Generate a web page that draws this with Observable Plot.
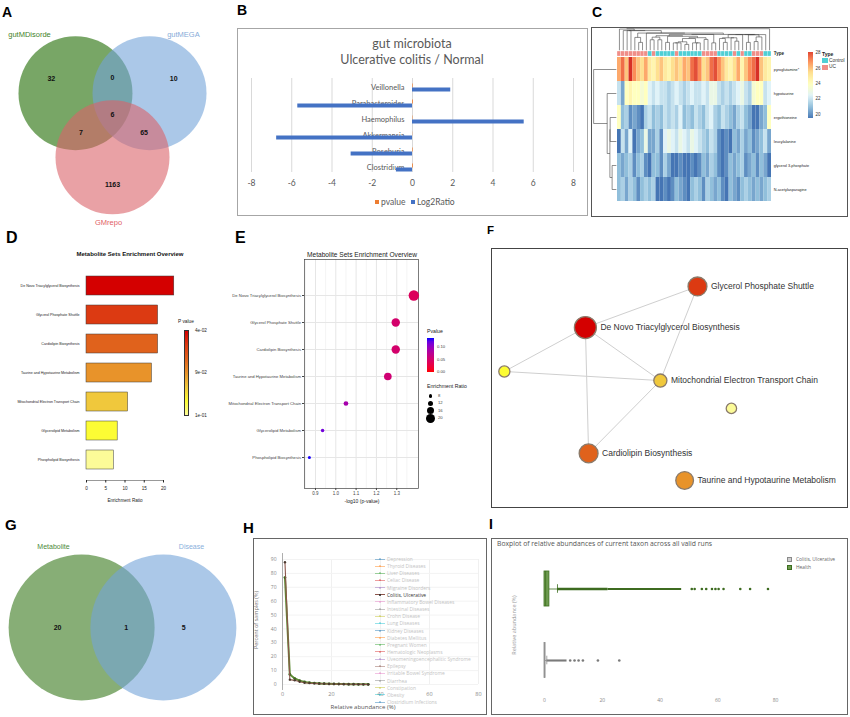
<!DOCTYPE html>
<html><head><meta charset="utf-8">
<script src="https://cdn.jsdelivr.net/npm/d3@7"></script>
<script src="https://cdn.jsdelivr.net/npm/@observablehq/plot@0.6"></script>
<style>
body{margin:0;background:#fff;}
#fig{position:relative;width:850px;height:717px;overflow:hidden;background:#fff;}
#fig svg{position:absolute;overflow:visible;}
</style></head><body><div id="fig"></div>
<script>
// ================= DATA =================
// A: three-set Venn
const vennA_sets = ["gutMDisorde", "gutMEGA", "GMrepo"];
const vennA_regions = ["100", "010", "001", "110", "101", "011", "111"];
const vennA_counts = [32, 10, 1163, 0, 7, 65, 6];
// B: log2 ratio bars
const microbes = ["Veillonella", "Parabacteroides", "Haemophilus", "Akkermansia", "Roseburia", "Clostridium"];
const log2Ratio = [1.9, -5.7, 5.55, -6.75, -3.05, -0.8];
const pvalues = [0.03, 0.04, 0.02, 0.01, 0.03, 0.04];
const bTicks = [-8, -6, -4, -2, 0, 2, 4, 6, 8];
// C: heatmap
const metabolites = ["pyroglutamine*", "hypotaurine", "ergothioneine", "leucylalanine", "glycerol 3-phosphate", "N-acetylasparagine"];
const sampleType = ["UC","UC","UC","UC","UC","UC","UC","UC","Control","UC","Control","Control","Control","Control","Control","UC","Control","Control","Control","Control","Control","Control","UC","UC","UC","UC","Control","Control","Control","Control","UC","Control","UC","Control","Control","UC","UC","UC","Control","Control"];
const heatPyroglutamine = [26.5,27.5,26,28.5,27,26,25.5,26.5,25,24.5,25.5,26,25,24.5,25.5,26,25.5,26.5,26,27.5,28,27,25.5,26,27.5,28,27,26,25,24.5,25.5,26.5,24.5,26,27,27.5,28.5,26,25,24.5];
const heatHypotaurine = [22,20.5,24,24.5,24,24,23.5,24,22.5,22,22.5,22,22,21.5,22,22.5,22,21.5,22,22.5,22,22,22.5,22,23,23,22,21.5,22,21.5,22,22.5,23,22,21.5,23.5,24,24,22,22.5];
const heatErgothioneine = [24,21,21.5,20,20.5,20,19.5,21.5,22,21,21.5,21,22,21.5,22,21.5,22.5,21,21.5,21,22,21.5,21,22,22.5,21.5,21,22,21.5,21,20.5,21.5,22,21,20.5,19.5,19.5,20.5,21,24];
const heatLeucylalanine = [19.5,22,20.5,22.5,19.5,20.5,21,23,20.5,20.5,21.5,20,22.5,23,22.5,22,23,22.5,22,23,22.5,22,21.5,21,22,21.5,20,19.5,20,19.5,21,20.5,21.5,20.5,21,20,20.5,21,22,20.5];
const heatGlycerol3P = [21,20.5,21,21.5,20,21,21.5,20,19.5,21,21,20,21.5,20.5,19.5,19.5,20,19.5,19.5,20,19.5,20,21,20.5,21.5,21,20,19.5,20,21,20.5,21,21.5,20,20.5,21,20,21,20.5,19.5];
const heatAcetylasparagine = [21,21.5,20.5,21.5,21,20,21,21.5,21,21.5,19.5,19.5,20,19.5,20,21,20.5,20,19.5,21,21.5,21,20,21.5,21,20.5,21,20,19.5,21,20.5,20,21,21.5,21,20.5,21,20.5,21,21.5];
const heatLegendTicks = [20, 22, 24, 26, 28];
// D / E / F: metabolite set enrichment
const metSets = ["De Novo Triacylglycerol Biosynthesis", "Glycerol Phosphate Shuttle", "Cardiolipin Biosynthesis", "Taurine and Hypotaurine Metabolism", "Mitochondrial Electron Transport Chain", "Glycerolipid Metabolism", "Phospholipid Biosynthesis"];
const enrichRatio = [22.8, 18.6, 18.6, 17.0, 10.8, 8.1, 7.1];
const negLog10P = [1.384, 1.295, 1.295, 1.256, 1.05, 0.935, 0.87];
const dTicks = [0, 5, 10, 15, 20];
const eTicks = [0.9, 1.0, 1.1, 1.2, 1.3];
const eSizeLegend = [8, 12, 16, 20];
const netEdgesFrom = [0, 0, 0, 0, 1, 5, 4];
const netEdgesTo   = [1, 5, 4, 2, 4, 4, 2];
const netLabelled = [0, 1, 2, 3, 4];
// G: two-set Venn
const vennG_sets = ["Metabolite", "Disease"];
const vennG_regions = ["10", "11", "01"];
const vennG_counts = [20, 1, 5];
// H: percent of samples vs relative abundance
const hDiseases = ["Depression","Thyroid Diseases","Liver Diseases","Celiac Disease","Migraine Disorders","Colitis, Ulcerative","Inflammatory Bowel Diseases","Intestinal Diseases","Crohn Disease","Lung Diseases","Kidney Diseases","Diabetes Mellitus","Pregnant Women","Hematologic Neoplasms","Uveomeningoencephalitic Syndrome","Epilepsy","Irritable Bowel Syndrome","Diarrhea","Constipation","Obesity","Clostridium Infections"];
const hAbundance = [1, 3, 5, 7, 9, 11, 13, 15, 17, 19, 21, 23, 25, 27, 29, 31, 33, 35];
const hColitisPct = [88, 3.5, 3.0, 2.0, 1.3, 1.0, 0.8, 0.6, 0.5, 0.4, 0.35, 0.3, 0.25, 0.2, 0.15, 0.1, 0.1, 0.05];
const hHealthPct  = [77, 7.2, 4.3, 2.8, 1.8, 1.3, 1.0, 0.8, 0.6, 0.5, 0.4, 0.35, 0.3, 0.25, 0.2, 0.15, 0.1, 0.1];
const hXTicks = [0, 20, 40, 60, 80];
const hYTicks = [0, 10, 20, 30, 40, 50, 60, 70, 80, 90];
// I: boxplot summaries
const boxGroups = ["Health", "Colitis, Ulcerative"];
const boxQ1 = [0, 0];
const boxMedian = [0.4, 0.05];
const boxQ3 = [1.7, 0.35];
const boxWhiskerHi = [4.5, 0.8];
const denseOutlierRuns = [[4.5, 22, 0], [22, 47.5, 0], [0.8, 7.8, 1]];
const outliersHealth = [51, 52, 54.5, 56, 58, 59.2, 60.3, 62, 67.8, 71.2, 77.4];
const outliersColitis = [8.9, 10.4, 11.8, 13.3, 18.5, 25.9];
const iTicks = [0, 20, 40, 60, 80];

// ================= HELPERS =================
const ARIAL = '"Liberation Sans", Arial, sans-serif';
const LATO = 'Lato, "Noto Sans", sans-serif';
const OPEN = '"Open Sans", "Noto Sans", sans-serif';
const fig = document.getElementById("fig");
function put(el, x, y) { el.style.position = "absolute"; el.style.left = x + "px"; el.style.top = y + "px"; fig.appendChild(el); return el; }
function txt(s, x, y, o = {}) {
  const d = document.createElement("div"); d.textContent = s;
  const a = o.anchor || "start"; const tx = a === "middle" ? "-50%" : a === "end" ? "-100%" : "0";
  d.style.cssText = `position:absolute;left:${x}px;top:${y}px;white-space:nowrap;line-height:1;transform:translate(${tx},-50%)${o.rotate ? ` rotate(${o.rotate}deg)` : ""};font-family:${o.font || ARIAL};font-size:${o.size || 8}px;font-weight:${o.weight || "normal"};color:${o.color || "#000"};`;
  fig.appendChild(d); return d;
}
function rectDiv(x, y, w, h, css) { const d = document.createElement("div"); d.style.cssText = `position:absolute;left:${x}px;top:${y}px;width:${w}px;height:${h}px;box-sizing:border-box;${css}`; fig.appendChild(d); return d; }
function letter(s, x, y, size) { txt(s, x, y, {size, weight: "bold", font: ARIAL}); }

// ================= A =================
(function () {
  const W = 230, H = 225, R = 57, ox = 112, oy = 114, d = 0.75;
  const ang = [210, 330, 90].map(a => a * Math.PI / 180);
  const circ = vennA_sets.map((s, i) => ({set: s, i, x: d * Math.cos(ang[i]), y: d * Math.sin(ang[i])}));
  const regions = vennA_regions.map((code, k) => {
    const idx = [...code].map((c, i) => c === "1" ? i : -1).filter(i => i >= 0);
    if (idx.length === 3) return {x: 0, y: 0, count: vennA_counts[k]};
    const vx = d3.mean(idx, i => Math.cos(ang[i])), vy = d3.mean(idx, i => Math.sin(ang[i]));
    const n = Math.hypot(vx, vy), dist = idx.length === 1 ? 1.24 : 0.64;
    return {x: vx / n * dist, y: vy / n * dist, count: vennA_counts[k]};
  });
  const off = [[-0.806, -1.025], [0.595, -1.025], [-0.07, 1.145]];
  const labels = circ.map((c, i) => ({set: c.set, i, x: c.x + off[i][0], y: c.y + off[i][1]}));
  const fills = ["#1e6b00", "#73a3d9", "#da6269"], tcol = ["#3f7f2a", "#86abd8", "#df6066"];
  const p = Plot.plot({
    width: W, height: H, margin: 0,
    x: {domain: [-ox / R, (W - ox) / R], range: [0, W], axis: null},
    y: {domain: [-oy / R, (H - oy) / R], range: [0, H], axis: null},
    color: {type: "identity"},
    style: {background: "transparent", fontFamily: ARIAL},
    marks: [
      Plot.dot(circ, {x: "x", y: "y", r: R, fill: c => fills[c.i], fillOpacity: 0.6}),
      Plot.text(regions, {x: "x", y: "y", text: r => String(r.count), fontWeight: "bold", fontSize: 7, fill: "#111"}),
      Plot.text(labels, {x: "x", y: "y", text: "set", fontSize: 7.5, fill: l => tcol[l.i]})
    ]
  });
  put(p, 0, 0);
  letter("A", 2, 12, 14);
})();

// ================= B =================
(function () {
  rectDiv(237, 28, 351, 188, "border:1px solid #a6a6a6;");
  txt("gut microbiota", 412, 44, {anchor: "middle", size: 12.5, font: LATO, color: "#595959"});
  txt("Ulcerative colitis / Normal", 412, 60, {anchor: "middle", size: 12.5, font: LATO, color: "#595959"});
  const data = microbes.map((m, i) => ({name: m, log2: log2Ratio[i], p: pvalues[i]}));
  const p = Plot.plot({
    width: 351, height: 188, marginLeft: 14, marginRight: 15, marginTop: 50, marginBottom: 44,
    x: {domain: [-8, 8]},
    y: {domain: microbes, range: [50.5, 146.5], padding: 0, axis: null},
    style: {background: "transparent", fontFamily: LATO, color: "#595959"},
    marks: [
      Plot.gridX({ticks: bTicks, stroke: "#d9d9d9", strokeOpacity: 1}),
      Plot.axisX({ticks: bTicks, tickSize: 0, tickPadding: 7, fontSize: 8.5, label: null, tickFormat: v => String(v)}),
      Plot.text(data, {x: 0, y: "name", text: "name", textAnchor: "end", dx: -8, fontSize: 7.5, fill: "#595959"}),
      Plot.barX(data, {x: "p", y: "name", fill: "#ed7d31", insetTop: 4.5, insetBottom: 7.5}),
      Plot.barX(data, {x: "log2", y: "name", fill: "#4472c4", insetTop: 8.5, insetBottom: 3.5})
    ]
  });
  put(p, 237, 28);
  rectDiv(375, 200, 4, 4, "background:#ed7d31;");
  txt("pvalue", 381, 202, {size: 8.5, font: LATO, color: "#595959"});
  rectDiv(411, 200, 4, 4, "background:#4472c4;");
  txt("Log2Ratio", 417, 202, {size: 8.5, font: LATO, color: "#595959"});
  letter("B", 237, 10, 14);
})();

// ================= C =================
function adjCluster(vecs) {
  const dist = (a, b) => Math.sqrt(d3.sum(a, (v, k) => (v - b[k]) ** 2));
  const link = (A, B) => d3.mean(A.m.flatMap(i => B.m.map(j => dist(vecs[i], vecs[j]))));
  let cl = vecs.map((v, i) => ({m: [i], pos: i + 0.5, h: 0}));
  while (cl.length > 1) {
    let bi = 0, bd = Infinity;
    for (let k = 0; k < cl.length - 1; k++) { const dd = link(cl[k], cl[k + 1]); if (dd < bd) { bd = dd; bi = k; } }
    const A = cl[bi], B = cl[bi + 1];
    cl.splice(bi, 2, {m: A.m.concat(B.m), pos: (A.pos + B.pos) / 2, h: Math.max(bd, A.h, B.h), kids: [A, B]});
  }
  return cl[0];
}
function treeSegs(n, out = []) {
  if (!n.kids) return out;
  const [A, B] = n.kids;
  out.push({p1: A.pos, h1: A.h, p2: A.pos, h2: n.h}, {p1: B.pos, h1: B.h, p2: B.pos, h2: n.h}, {p1: A.pos, h1: n.h, p2: B.pos, h2: n.h});
  treeSegs(A, out); treeSegs(B, out); return out;
}
(function () {
  rectDiv(591, 27, 257, 190, "border:1.5px solid #555;");
  const rows = [heatPyroglutamine, heatHypotaurine, heatErgothioneine, heatLeucylalanine, heatGlycerol3P, heatAcetylasparagine];
  const nC = sampleType.length;
  const cells = rows.flatMap((r, i) => r.map((v, j) => ({row: i, col: j, v})));
  const cols = sampleType.map((t, j) => ({col: j, type: t}));
  const colTree = adjCluster(d3.range(nC).map(j => rows.map(r => r[j])));
  const rowTree = adjCluster(rows);
  const colSegs = treeSegs(colTree), rowSegs = treeSegs(rowTree);
  const cy = h => -0.3 - 0.9 * h / colTree.h;
  const rx = h => -0.3 - 5.9 * h / rowTree.h;
  const heatDomain = [19.5, 21, 22.5, 24, 25.5, 27, 28.5];
  const heatRange = ["#4575b4", "#91bfdb", "#e0f3f8", "#ffffbf", "#fee090", "#fc8d59", "#d73027"];
  const p = Plot.plot({
    width: 257, height: 190, margin: 0,
    x: {domain: [0, nC], range: [26, 180], axis: null},
    y: {domain: [0, 6], range: [30, 174], axis: null},
    color: {type: "linear", domain: heatDomain, range: heatRange},
    style: {background: "transparent", fontFamily: ARIAL},
    marks: [
      Plot.rect(cells, {x1: "col", x2: c => c.col + 1, y1: "row", y2: c => c.row + 1, fill: "v"}),
      Plot.rect(cols.filter(c => c.type === "UC"), {x1: "col", x2: c => c.col + 1, y1: -0.25, y2: -0.04, fill: "#f08e88", stroke: "#fff", strokeWidth: 0.3}),
      Plot.rect(cols.filter(c => c.type === "Control"), {x1: "col", x2: c => c.col + 1, y1: -0.25, y2: -0.04, fill: "#4fcfd5", stroke: "#fff", strokeWidth: 0.3}),
      Plot.link(colSegs, {x1: "p1", x2: "p2", y1: s => cy(s.h1), y2: s => cy(s.h2), stroke: "#444", strokeWidth: 0.6}),
      Plot.link(rowSegs, {y1: "p1", y2: "p2", x1: s => rx(s.h1), x2: s => rx(s.h2), stroke: "#444", strokeWidth: 0.6}),
      Plot.text(metabolites, {x: nC + 0.6, y: (d, i) => i + 0.5, text: d => d, textAnchor: "start", fontSize: 3.8, fill: "#222"}),
      Plot.text(["Type"], {x: nC + 0.6, y: -0.15, text: d => d, textAnchor: "start", fontSize: 4.5, fontWeight: "bold", fill: "#222"})
    ]
  });
  put(p, 591, 27);
  // colour legend
  const sc = d3.scaleLinear().domain(heatDomain).range(heatRange);
  const vTop = 28.13, vBot = 19.61;
  const stops = d3.range(0, 1.0001, 0.05).map(t => `${sc(vTop + (vBot - vTop) * t)} ${t * 100}%`).join(",");
  rectDiv(808, 52, 5, 66, `background:linear-gradient(to bottom,${stops});`);
  heatLegendTicks.forEach(v => txt(String(v), 815.5, 52 + (vTop - v) / (vTop - vBot) * 66, {size: 4.5, color: "#333"}));
  txt("Type", 822, 54, {size: 5, weight: "bold", color: "#222"});
  rectDiv(822, 58, 6, 5, "background:#4fcfd5;");
  txt("Control", 829, 60.5, {size: 4.8, color: "#333"});
  rectDiv(822, 64.5, 6, 5, "background:#f08e88;");
  txt("UC", 829, 67, {size: 4.8, color: "#333"});
  letter("C", 592, 12, 14);
})();

// ================= D =================
const setColors = ["#d40000", "#dc3a12", "#e0621c", "#e8932a", "#f0c83c", "#fcfc34", "#fcfb98"];
(function () {
  const data = metSets.map((s, i) => ({set: s, er: enrichRatio[i]}));
  const p = Plot.plot({
    width: 215, height: 280, marginLeft: 86, marginRight: 52, marginTop: 44, marginBottom: 25,
    x: {domain: [0, 20]},
    y: {domain: metSets, range: [44, 252], paddingInner: 0.33, paddingOuter: 0.17},
    color: {type: "ordinal", domain: metSets, range: setColors},
    style: {background: "transparent", fontFamily: ARIAL, color: "#222"},
    marks: [
      Plot.barX(data, {x: "er", y: "set", fill: "set", stroke: "#3a3a3a", strokeWidth: 0.5}),
      Plot.axisY({tickSize: 0, tickPadding: 7, fontSize: 3.6, label: null}),
      Plot.axisX({ticks: dTicks, tickSize: 2.5, tickPadding: 4, fontSize: 4.6, label: null}),
      Plot.frame({anchor: "bottom", stroke: "#333", strokeWidth: 0.5})
    ]
  });
  put(p, 0, 225);
  txt("Metabolite Sets Enrichment Overview", 130, 254, {anchor: "middle", size: 6, weight: "bold", color: "#111"});
  txt("Enrichment Ratio", 125, 501, {anchor: "middle", size: 4.6, color: "#222"});
  txt("P value", 178, 322, {size: 4.8, color: "#222"});
  const stops = setColors.map((c, i) => `${c} ${i / (setColors.length - 1) * 100}%`).join(",");
  rectDiv(184, 330, 5, 86, `background:linear-gradient(to bottom,${stops});border:0.5px solid #333;`);
  const pv = negLog10P.map(v => 10 ** -v);
  txt(d3.format(".0e")(pv[0]).replace("e-", "e-0"), 195, 331, {size: 4.6, color: "#222"});
  txt("9e-02", 195, 373, {size: 4.6, color: "#222"});
  txt(d3.format(".0e")(pv[pv.length - 1]).replace("e-", "e-0"), 195, 416, {size: 4.6, color: "#222"});
  letter("D", 6, 238, 16);
})();

// ================= E =================
(function () {
  const pv = negLog10P.map(v => 10 ** -v);
  const data = metSets.map((s, i) => ({set: s, x: negLog10P[i], er: enrichRatio[i], p: pv[i]}));
  const rDom = [7.1, 22.8], rRange = [1.5, 5.2];
  const p = Plot.plot({
    width: 212, height: 280, marginLeft: 94, marginRight: 4, marginTop: 34, marginBottom: 17,
    x: {domain: [0.846, 1.407]},
    y: {type: "point", domain: metSets, range: [56, 246]},
    r: {type: "linear", domain: rDom, range: rRange},
    color: {type: "linear", domain: [0, 0.136], range: ["#ff0000", "#0000ff"], interpolate: "lab"},
    style: {background: "transparent", fontFamily: ARIAL, color: "#444"},
    marks: [
      Plot.gridX({ticks: [0.85, 0.95, 1.05, 1.15, 1.25, 1.35], stroke: "#f4f4f4", strokeOpacity: 1}),
      Plot.gridX({ticks: eTicks, stroke: "#e6e6e6", strokeOpacity: 1}),
      Plot.gridY({stroke: "#e6e6e6", strokeOpacity: 1}),
      Plot.frame({stroke: "#444", strokeWidth: 0.7}),
      Plot.axisX({ticks: eTicks, tickSize: 2, tickPadding: 1.5, fontSize: 4.5, label: null, tickFormat: d3.format(".1f")}),
      Plot.axisY({tickSize: 2, tickPadding: 1.5, fontSize: 4.2, label: null}),
      Plot.dot(data, {x: "x", y: "set", r: "er", fill: "p"})
    ]
  });
  put(p, 210, 225);
  txt("Metabolite Sets Enrichment Overview", 362, 255, {anchor: "middle", size: 6.6, color: "#222"});
  txt("-log10 (p-value)", 362, 501, {anchor: "middle", size: 5, color: "#222"});
  txt("Pvalue", 427, 332, {size: 5.2, color: "#222"});
  const il = d3.interpolateLab("#0000ff", "#ff0000");
  const stops = d3.range(0, 1.0001, 0.1).map(t => `${il(t)} ${t * 100}%`).join(",");
  rectDiv(427, 338, 7, 34, `background:linear-gradient(to bottom,${stops});`);
  [[0.10, "0.10"], [0.05, "0.05"], [0.0, "0.00"]].forEach(([v, s]) => txt(s, 437, 338 + (0.136 - v) / 0.136 * 34, {size: 4.2, color: "#444"}));
  txt("Enrichment Ratio", 427, 387, {size: 5.2, color: "#222"});
  const rs = d3.scaleLinear().domain(rDom).range(rRange);
  eSizeLegend.forEach((v, i) => {
    const r = rs(v), y = 396 + i * 7.4;
    rectDiv(430.5 - r, y - r, 2 * r, 2 * r, "background:#000;border-radius:50%;");
    txt(String(v), 438, y, {size: 4.2, color: "#444"});
  });
  letter("E", 235, 238, 16);
})();

// ================= F =================
(function () {
  rectDiv(491, 248, 357, 260, "border:1.5px solid #444;");
  const layout = [[0.263, 0.304], [0.577, 0.146], [0.272, 0.788], [0.541, 0.892], [0.473, 0.508], [0.036, 0.473], [0.672, 0.615]];
  const rDom = [7.1, 22.8], rRange = [5.2, 11];
  const rs = d3.scaleLinear().domain(rDom).range(rRange);
  const nodes = metSets.map((s, i) => ({set: s, er: enrichRatio[i], x: layout[i][0], y: layout[i][1]}));
  const edges = netEdgesFrom.map((a, k) => ({a: nodes[a], b: nodes[netEdgesTo[k]]}));
  const labs = netLabelled.map(i => ({...nodes[i], lx: nodes[i].x + (rs(nodes[i].er) + 4) / 357}));
  const p = Plot.plot({
    width: 357, height: 260, margin: 0,
    x: {domain: [0, 1], range: [0, 357], axis: null},
    y: {domain: [0, 1], range: [0, 260], axis: null},
    r: {type: "linear", domain: rDom, range: rRange},
    color: {type: "ordinal", domain: metSets, range: setColors},
    style: {background: "transparent", fontFamily: ARIAL},
    marks: [
      Plot.link(edges, {x1: e => e.a.x, y1: e => e.a.y, x2: e => e.b.x, y2: e => e.b.y, stroke: "#cfcfcf", strokeWidth: 1}),
      Plot.dot(nodes, {x: "x", y: "y", r: "er", fill: "set", stroke: "#8a7a6a", strokeWidth: 1.3}),
      Plot.text(labs, {x: "lx", y: "y", text: "set", textAnchor: "start", fontSize: 8.5, fill: "#333"})
    ]
  });
  put(p, 491, 248);
  letter("F", 487, 231, 11.5);
})();

// ================= G =================
(function () {
  const W = 240, H = 212, R = 73, ox = 122, oy = 122, d = 0.56;
  const circ = vennG_sets.map((s, i) => ({set: s, i, x: i === 0 ? -d : d, y: 0}));
  const regions = vennG_regions.map((code, k) => ({x: code === "10" ? -0.89 : code === "01" ? 0.84 : 0.05, y: 0, count: vennG_counts[k]}));
  const labels = circ.map(c => ({set: c.set, i: c.i, x: c.i === 0 ? -0.945 : 0.945, y: -1.11}));
  const fills = ["#37781a", "#73a3d9"], tcol = ["#4d8a3a", "#8aafdc"];
  const p = Plot.plot({
    width: W, height: H, margin: 0,
    x: {domain: [-ox / R, (W - ox) / R], range: [0, W], axis: null},
    y: {domain: [-oy / R, (H - oy) / R], range: [0, H], axis: null},
    color: {type: "identity"},
    style: {background: "transparent", fontFamily: ARIAL},
    marks: [
      Plot.dot(circ, {x: "x", y: "y", r: R, fill: c => fills[c.i], fillOpacity: 0.6}),
      Plot.text(regions, {x: "x", y: "y", text: r => String(r.count), fontWeight: "bold", fontSize: 7, fill: "#111"}),
      Plot.text(labels, {x: "x", y: "y", text: "set", fontSize: 7, fill: l => tcol[l.i]})
    ]
  });
  put(p, 0, 505);
  letter("G", 5, 523.5, 15);
})();

// ================= H =================
(function () {
  rectDiv(253, 538, 234, 177, "border:1.5px solid #666;");
  const cat = d3.schemeCategory10;
  const series = [
    ...hAbundance.map((x, i) => ({x, y: hHealthPct[i], s: "Health"})),
    ...hAbundance.map((x, i) => ({x, y: hColitisPct[i], s: "Colitis, Ulcerative"}))
  ];
  const p = Plot.plot({
    width: 234, height: 177, marginLeft: 29, marginRight: 9, marginTop: 21, marginBottom: 31,
    x: {domain: [0, 80]}, y: {domain: [0, 90]},
    style: {background: "transparent", fontFamily: OPEN, color: "#888"},
    marks: [
      Plot.gridX({ticks: hXTicks, stroke: "#f0f0f0", strokeOpacity: 1}),
      Plot.gridY({ticks: hYTicks, stroke: "#f3f3f3", strokeOpacity: 1}),
      Plot.ruleX([0], {y1: -4.3, y2: 94.3, stroke: "#999", strokeWidth: 0.8}),
      Plot.axisX({ticks: hXTicks, tickSize: 0, tickPadding: 8, fontSize: 5.5, label: null}),
      Plot.axisY({ticks: hYTicks, tickSize: 0, tickPadding: 6, fontSize: 5, label: null}),
      Plot.line(series.filter(d => d.s === "Health"), {x: "x", y: "y", stroke: "#5e8c34", strokeWidth: 2}),
      Plot.dot(series.filter(d => d.s === "Health"), {x: "x", y: "y", r: 1.4, fill: "#3f6a22"}),
      Plot.line(series.filter(d => d.s === "Colitis, Ulcerative"), {x: "x", y: "y", stroke: cat[5], strokeWidth: 1.1}),
      Plot.dot(series.filter(d => d.s === "Colitis, Ulcerative"), {x: "x", y: "y", r: 1.2, fill: "#4a3a30"})
    ]
  });
  put(p, 253, 538);
  hDiseases.forEach((name, i) => {
    const y = 559 + i * 7.15, hi = name === "Colitis, Ulcerative";
    const c = cat[i % 10];
    rectDiv(375, y - 0.5, 10, 1, `background:${c};opacity:${hi ? 1 : 0.45};`);
    rectDiv(379, y - 1, 2, 2, `background:${hi ? "#222" : c};border-radius:50%;opacity:${hi ? 1 : 0.45};`);
    txt(name, 387, y, {size: 4.9, font: OPEN, color: hi ? "#333" : "#c4c4c4"});
  });
  txt("Percent of samples (%)", 257, 620, {anchor: "middle", rotate: -90, size: 5.5, font: OPEN, color: "#777"});
  txt("Relative abundance (%)", 363, 707, {anchor: "middle", size: 6, font: OPEN, color: "#555"});
  letter("H", 243, 527, 15);
})();

// ================= I =================
(function () {
  rectDiv(491, 538, 357, 177, "border:1.5px solid #666;");
  const col = [{fill: "#6e9b50", stroke: "#3c6e1e", pt: "#3d6b20"}, {fill: "#cfcfcf", stroke: "#8a8a8a", pt: "#7a7a7a"}];
  const boxes = boxGroups.map((g, i) => ({g, i, q1: boxQ1[i], med: boxMedian[i], q3: boxQ3[i], hi: boxWhiskerHi[i]}));
  const hw = 0.245;
  const dense = denseOutlierRuns.map(([a, b, i], k) => ({a, b, i, w: k === 0 ? 2.6 : 2.1}));
  const pts = [...outliersHealth.map(x => ({x, i: 0})), ...outliersColitis.map(x => ({x, i: 1}))];
  const p = Plot.plot({
    width: 357, height: 177, marginLeft: 53, marginRight: 73, marginTop: 10, marginBottom: 20,
    x: {domain: [0, 80]},
    y: {domain: [-0.5, 1.5], range: [14.75, 157.75], axis: null},
    color: {type: "identity"},
    style: {background: "transparent", fontFamily: OPEN, color: "#888"},
    marks: [
      Plot.axisX({ticks: iTicks, tickSize: 0, tickPadding: 3, fontSize: 5, label: null}),
      Plot.ruleY(dense, {y: "i", x1: "a", x2: "b", stroke: d => col[d.i].pt, strokeWidth: "w"}),
      Plot.dot(pts, {x: "x", y: "i", r: 1.3, fill: d => col[d.i].pt}),
      Plot.ruleY(boxes, {y: "i", x1: "q3", x2: "hi", stroke: d => col[d.i].stroke, strokeWidth: 0.8}),
      Plot.ruleX(boxes, {x: "hi", y1: d => d.i - 0.06, y2: d => d.i + 0.06, stroke: d => col[d.i].stroke, strokeWidth: 0.8}),
      Plot.rect(boxes, {x1: "q1", x2: "q3", y1: d => d.i - hw, y2: d => d.i + hw, fill: d => col[d.i].fill, stroke: d => col[d.i].stroke, strokeWidth: 0.8}),
      Plot.ruleX(boxes, {x: "med", y1: d => d.i - hw, y2: d => d.i + hw, stroke: d => col[d.i].stroke, strokeWidth: 0.8})
    ]
  });
  put(p, 491, 538);
  txt("Boxplot of relative abundances of current taxon across all valid runs", 497, 544, {size: 6.8, font: OPEN, color: "#555"});
  rectDiv(787, 556.5, 5, 5, "background:#cfcfcf;border:0.6px solid #8a8a8a;");
  txt("Colitis, Ulcerative", 796, 559, {size: 4.9, font: OPEN, color: "#666"});
  rectDiv(787, 564.5, 5, 5, "background:#6e9b50;border:0.6px solid #3c6e1e;");
  txt("Health", 796, 567, {size: 4.9, font: OPEN, color: "#666"});
  txt("Relative abundance (%)", 515, 625, {anchor: "middle", rotate: -90, size: 5.5, font: OPEN, color: "#999"});
  letter("I", 489, 524, 14);
})();
</script></body></html>
